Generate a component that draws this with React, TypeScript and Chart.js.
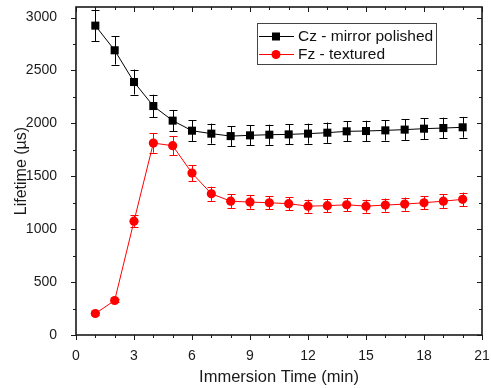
import React, { useEffect, useRef } from "react";
import { Chart, registerables } from "chart.js";

Chart.register(...registerables);

const times = [1, 2, 3, 4, 5, 6, 7, 8, 9, 10, 11, 12, 13, 14, 15, 16, 17, 18, 19, 20];
const czValues = [2924, 2691, 2391, 2164, 2026, 1931, 1903, 1880, 1887, 1893, 1896, 1903, 1912, 1925, 1928, 1934, 1941, 1950, 1956, 1963];
const czErrors = [148, 135, 118, 107, 101, 97, 95, 94, 94, 95, 95, 95, 96, 96, 97, 97, 97, 98, 98, 98];
const fzValues = [203, 326, 1076, 1814, 1789, 1530, 1335, 1265, 1256, 1250, 1241, 1218, 1222, 1231, 1218, 1228, 1237, 1250, 1265, 1282];
const fzErrors = [10, 17, 54, 91, 90, 77, 67, 64, 63, 63, 62, 61, 61, 62, 61, 62, 62, 63, 64, 64];
const xTicks = [0, 3, 6, 9, 12, 15, 18, 21];
const yTicks = [0, 500, 1000, 1500, 2000, 2500, 3000];
const seriesNames = ["Cz - mirror polished", "Fz - textured"];

const FONT = "'Liberation Sans', Arial, sans-serif";
const AXIS = "#1a1a1a";

const errorBarPlugin = {
  id: "errorBars",
  beforeDatasetsDraw(chart: any) {
    const ctx = chart.ctx;
    const x = chart.scales.x;
    const y = chart.scales.y;
    const sets = [
      { vals: czValues, errs: czErrors, color: "#000000" },
      { vals: fzValues, errs: fzErrors, color: "#ff0000" },
    ];
    ctx.save();
    ctx.lineWidth = 1;
    for (const s of sets) {
      ctx.strokeStyle = s.color;
      s.vals.forEach((v, i) => {
        const px = Math.round(x.getPixelForValue(times[i])) + 0.5;
        const top = y.getPixelForValue(v + s.errs[i]);
        const bot = y.getPixelForValue(v - s.errs[i]);
        ctx.beginPath();
        ctx.moveTo(px, top);
        ctx.lineTo(px, bot);
        ctx.moveTo(px - 4, Math.round(top) + 0.5);
        ctx.lineTo(px + 4, Math.round(top) + 0.5);
        ctx.moveTo(px - 4, Math.round(bot) + 0.5);
        ctx.lineTo(px + 4, Math.round(bot) + 0.5);
        ctx.stroke();
      });
    }
    ctx.restore();
  },
};

const framePlugin = {
  id: "frame",
  afterDraw(chart: any) {
    const ctx = chart.ctx;
    const { left, right, top, bottom } = chart.chartArea;
    const x = chart.scales.x;
    const y = chart.scales.y;
    ctx.save();
    ctx.strokeStyle = AXIS;
    ctx.lineWidth = 1;
    ctx.beginPath();
    for (let v = 0; v <= 21; v += 1) {
      const px = Math.round(x.getPixelForValue(v)) + 0.5;
      const major = v % 3 === 0;
      const len = major ? 5 : 3;
      ctx.moveTo(px, bottom);
      ctx.lineTo(px, bottom + len);
      ctx.moveTo(px, top);
      ctx.lineTo(px, top + len);
    }
    for (let v = 0; v <= 3000; v += 250) {
      const py = Math.round(y.getPixelForValue(v)) + 0.5;
      const major = v % 500 === 0;
      const len = major ? 5 : 3;
      ctx.moveTo(left, py);
      ctx.lineTo(left - len, py);
      ctx.moveTo(right, py);
      ctx.lineTo(right - len, py);
    }
    ctx.stroke();
    ctx.lineWidth = 1.6;
    ctx.strokeRect(left, top, right - left, bottom - top);
    // legend
    const lx = 257, ly = 23, lw = 179, lh = 41;
    ctx.fillStyle = "#ffffff";
    ctx.fillRect(lx, ly, lw, lh);
    ctx.lineWidth = 1;
    ctx.strokeStyle = "#444444";
    ctx.strokeRect(lx + 0.5, ly + 0.5, lw, lh);
    const rows = [
      { y: 36, color: "#000000", kind: "rect" },
      { y: 54, color: "#ff0000", kind: "circle" },
    ];
    rows.forEach((r, i) => {
      ctx.strokeStyle = r.color;
      ctx.fillStyle = r.color;
      ctx.lineWidth = 1;
      ctx.beginPath();
      ctx.moveTo(259, r.y + 0.5);
      ctx.lineTo(294, r.y + 0.5);
      ctx.stroke();
      if (r.kind === "rect") {
        ctx.fillRect(272, r.y - 3.5, 8, 8);
      } else {
        ctx.beginPath();
        ctx.arc(276, r.y + 0.5, 4.5, 0, Math.PI * 2);
        ctx.fill();
      }
      ctx.fillStyle = "#111111";
      ctx.font = `15.5px ${FONT}`;
      ctx.textAlign = "left";
      ctx.textBaseline = "middle";
      ctx.fillText(seriesNames[i], 298, r.y + 1);
    });
    ctx.restore();
  },
};

export default function App() {
  const ref = useRef<HTMLCanvasElement | null>(null);
  useEffect(() => {
    if (!ref.current) return;
    const chart = new Chart(ref.current, {
      type: "line",
      data: {
        datasets: [
          {
            label: seriesNames[0],
            data: times.map((t, i) => ({ x: t, y: czValues[i] })),
            borderColor: "#000000",
            backgroundColor: "#000000",
            borderWidth: 1,
            pointStyle: "rect",
            pointRadius: 5.7,
            pointBorderWidth: 0,
            tension: 0,
          },
          {
            label: seriesNames[1],
            data: times.map((t, i) => ({ x: t, y: fzValues[i] })),
            borderColor: "#ff0000",
            backgroundColor: "#ff0000",
            borderWidth: 1,
            pointStyle: "circle",
            pointRadius: 4.6,
            pointBorderWidth: 0,
            tension: 0,
          },
        ],
      },
      options: {
        responsive: false,
        animation: false,
        layout: { padding: { left: 0, right: 9, top: 7, bottom: 0 } },
        plugins: {
          legend: { display: false },
          tooltip: { enabled: false },
        },
        scales: {
          x: {
            type: "linear",
            min: 0,
            max: 21,
            afterFit: (s: any) => {
              s.height = 53;
              s.paddingLeft = 0;
              s.paddingRight = 0;
            },
            afterBuildTicks: (s: any) => {
              s.ticks = xTicks.map((v) => ({ value: v }));
            },
            grid: { display: false },
            border: { display: false },
            ticks: {
              padding: 5,
              color: "#1a1a1a",
              font: { family: FONT, size: 14 },
              maxRotation: 0,
              callback: (v: any) => String(v),
            },
            title: {
              display: true,
              text: "Immersion Time (min)",
              color: "#1a1a1a",
              font: { family: FONT, size: 16.5 },
              padding: { top: 0, bottom: 1 },
            },
          },
          y: {
            type: "linear",
            min: 0,
            max: 3100,
            afterFit: (s: any) => {
              s.width = 76;
              s.paddingTop = 0;
              s.paddingBottom = 0;
            },
            afterBuildTicks: (s: any) => {
              s.ticks = yTicks.map((v) => ({ value: v }));
            },
            grid: { display: false },
            border: { display: false },
            ticks: {
              padding: 11,
              color: "#1a1a1a",
              font: { family: FONT, size: 14 },
              callback: (v: any) => String(v),
            },
            title: {
              display: true,
              text: "Lifetime (µs)",
              color: "#1a1a1a",
              font: { family: FONT, size: 16 },
              padding: { top: 12.4, bottom: 0 },
            },
          },
        },
      },
      plugins: [errorBarPlugin, framePlugin],
    });
    return () => chart.destroy();
  }, []);
  return (
    <div style={{ position: "absolute", left: 0, top: 0, width: 491, height: 388, background: "#ffffff" }}>
      <canvas ref={ref} width={491} height={388} style={{ display: "block" }} />
    </div>
  );
}
